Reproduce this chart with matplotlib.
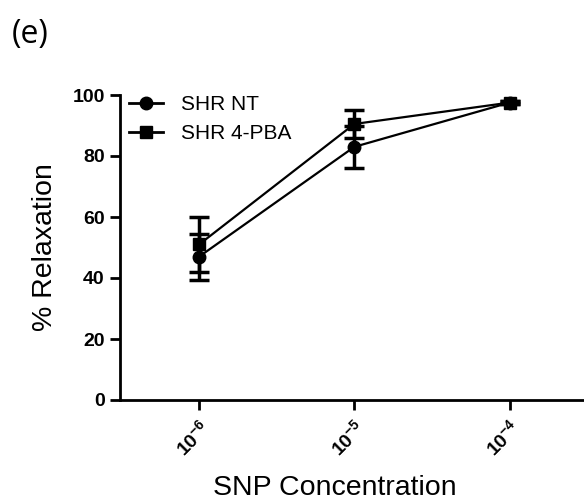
import matplotlib
matplotlib.use("Agg")
import matplotlib.pyplot as plt
from matplotlib.lines import Line2D
import numpy as np

plt.rcParams['font.family'] = ['Liberation Sans', 'DejaVu Sans']
plt.rcParams['mathtext.fontset'] = 'custom'
plt.rcParams['mathtext.rm'] = 'Liberation Sans:bold'
plt.rcParams['mathtext.bf'] = 'Liberation Sans:bold'

conc = [1e-6, 1e-5, 1e-4]
tick_labels = [r'$\mathbf{10^{-6}}$', r'$\mathbf{10^{-5}}$', r'$\mathbf{10^{-4}}$']

nt_mean = [47, 83, 97.5]
nt_err = [7.5, 7, 0.5]
pba_mean = [51, 90.5, 97.5]
pba_err = [9, 4.5, 0.5]

fig = plt.figure(figsize=(5.84, 5.03), dpi=100)
ax = fig.add_axes([120/584, 1-400/503, 1-120/584, (400-95)/503])

ax.errorbar(conc, nt_mean, yerr=nt_err, color='black', marker='o', markersize=9,
            lw=1.6, capsize=7, capthick=2.5, elinewidth=2.5)
ax.errorbar(conc, pba_mean, yerr=pba_err, color='black', marker='s', markersize=9,
            lw=1.6, capsize=7, capthick=2.5, elinewidth=2.5)

ax.set_xscale('log')
ax.set_xlim(10**-6.51, 10**-3.52)
ax.set_ylim(0, 100)
ax.set_yticks([0, 20, 40, 60, 80, 100])
ax.set_xticks(conc)
ax.set_xticklabels(tick_labels, rotation=45, ha='right', va='top', rotation_mode='anchor',
                   fontsize=14)
ax.minorticks_off()
for s in ['top', 'right']:
    ax.spines[s].set_visible(False)
for s in ['left', 'bottom']:
    ax.spines[s].set_linewidth(2)
ax.tick_params(axis='both', direction='out', length=7, width=2, labelsize=14)
for lbl in ax.get_yticklabels():
    lbl.set_fontweight('bold')
ax.tick_params(axis='x', pad=5)
ax.tick_params(axis='y', pad=4)

ax.set_ylabel('% Relaxation', fontsize=20.5, labelpad=10)
ax.set_xlabel('SNP Concentration', fontsize=20.5)
ax.xaxis.set_label_coords((335-120)/464, -(495-400)/305, transform=ax.transAxes)
ax.xaxis.label.set_va('baseline')

handles = [Line2D([], [], color='black', marker='o', markersize=9, lw=2),
           Line2D([], [], color='black', marker='s', markersize=9, lw=2)]
ax.legend(handles, ['SHR NT', 'SHR 4-PBA'], loc='upper left',
          bbox_to_anchor=(-0.02, 1.06), frameon=False,
          fontsize=15, handlelength=1.6, handletextpad=0.85, labelspacing=0.45)

fig.text(12/584, 1-35/503, '(e)', fontsize=23, family=['Open Sans', 'DejaVu Sans'], va='center')

fig.savefig('out.png', dpi=100)
